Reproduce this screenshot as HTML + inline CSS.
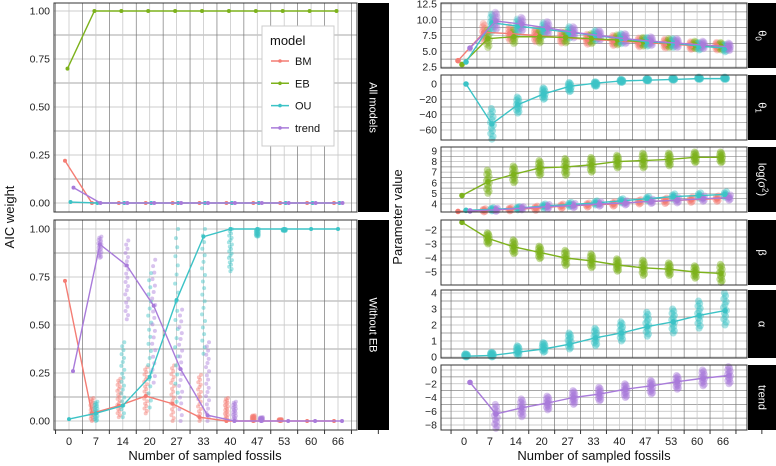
<!DOCTYPE html>
<html><head><meta charset="utf-8"><style>
html,body{margin:0;padding:0;background:#fff;}
svg{display:block;font-family:"Liberation Sans","DejaVu Sans",sans-serif;}
</style></head><body>
<svg id="chart" width="776" height="466" viewBox="0 0 776 466" xmlns="http://www.w3.org/2000/svg"></svg>
<script>
// ---------- data ----------
const categories = [0,7,14,20,27,33,40,47,53,60,66];
const models = ["BM","EB","OU","trend"];
const colors = {BM:"#F47D74",EB:"#7DB21C",OU:"#3CC3C6",trend:"#A97BDA"};

// Left: AIC weight, All models (means)
const aicAllBM = [0.22,0,0,0,0,0,0,0,0,0,0];
const aicAllEB = [0.70,1,1,1,1,1,1,1,1,1,1];
const aicAllOU = [0.005,0,0,0,0,0,0,0,0,0,0];
const aicAllTrend = [0.08,0,0,0,0,0,0,0,0,0,0];

// Left: AIC weight, Without EB (means and replicate ranges)
const aicNoEbBM = [0.73,0.04,0.08,0.13,0.09,0.02,0,0,0,0,0];
const aicNoEbOU = [0.01,0.04,0.08,0.23,0.63,0.96,1,1,1,1,1];
const aicNoEbTrend = [0.26,0.92,0.81,0.6,0.27,0.03,0,0,0,0,0];
const aicNoEbBMMin = [0.73,0,0.02,0.04,0,0,0,0,0,0,0];
const aicNoEbBMMax = [0.73,0.12,0.22,0.28,0.29,0.24,0.12,0.03,0.01,0,0];
const aicNoEbOUMin = [0.01,0,0.02,0.07,0.1,0.35,0.78,0.96,0.99,1,1];
const aicNoEbOUMax = [0.01,0.1,0.41,0.77,1,1,1,1,1,1,1];
const aicNoEbTrendMin = [0.26,0.85,0.53,0.2,0,0,0,0,0,0,0];
const aicNoEbTrendMax = [0.26,0.96,0.94,0.84,0.58,0.41,0.1,0.02,0,0,0];

// Right: theta0
const th0BM = [3.5,8,7.8,7.5,7.2,6.9,6.7,6.4,6.2,5.9,5.8];
const th0EB = [2.9,7,7.3,7.3,7.2,7,6.8,6.5,6.3,6,5.8];
const th0OU = [3.3,9.5,9,8.5,8,7.5,7,6.5,6.3,5.8,5.5];
const th0Trend = [5.5,9.8,9.3,8.7,8,7.5,7,6.6,6.3,6,5.7];
const th0Spread = [0,1.4,1.1,1.0,0.9,0.8,0.8,0.7,0.7,0.6,0.6];
// theta1 (OU)
const th1OU = [0,-52,-27,-13,-3,1,4,5,6,7,7];
const th1Min = [0,-72,-38,-20,-10,-3,2,4,5,6,6];
const th1Max = [0,-32,-17,-5,2,3,6,7,8,9,9];
// log sigma^2
const lsEB = [4.8,6.1,6.8,7.4,7.5,7.7,8.0,8.1,8.2,8.4,8.4];
const lsEBSpread = [0,1.1,0.8,0.7,0.8,0.7,0.6,0.7,0.6,0.5,0.5];
const lsBM = [3.3,3.4,3.5,3.6,3.8,3.9,4.0,4.2,4.3,4.4,4.5];
const lsOU = [3.4,3.5,3.6,3.8,3.95,4.1,4.3,4.5,4.7,4.8,4.9];
const lsTrend = [3.35,3.45,3.6,3.75,3.85,4.0,4.1,4.25,4.35,4.5,4.6];
const lsSmallSpread = [0,0.15,0.15,0.2,0.2,0.2,0.2,0.2,0.25,0.25,0.25];
// beta (EB)
const betaEB = [-1.45,-2.6,-3.2,-3.6,-4.0,-4.2,-4.5,-4.7,-4.8,-5.0,-5.1];
const betaSpread = [0,0.4,0.5,0.45,0.55,0.5,0.45,0.55,0.45,0.45,0.65];
// alpha (OU)
const alphaOU = [0.05,0.1,0.3,0.5,0.8,1.2,1.5,1.9,2.2,2.6,2.9];
const alphaMin = [0,0,0.1,0.3,0.5,0.7,1.0,1.3,1.5,1.8,2.0];
const alphaMax = [0.2,0.3,0.7,0.9,1.5,1.8,2.2,2.8,3.0,3.5,4.0];
// trend
const trendVal = [-1.8,-6.4,-5.5,-4.8,-4.0,-3.5,-2.8,-2.3,-1.7,-1.2,-0.8];
const trendMin = [-1.8,-8.5,-6.8,-5.8,-5,-4.5,-4,-3.5,-2.8,-2.3,-2];
const trendMax = [-1.8,-5,-4.2,-3.8,-3,-2.5,-2,-1.5,-0.8,0,0.5];

// ---------- helpers ----------
const svg = document.getElementById('chart');
const NS = "http://www.w3.org/2000/svg";
const jitterPattern = [0,1.2,-1.2,0.6,-0.6,1.5,-1.5];
function mk(tag, attrs, parent){
  const e = document.createElementNS(NS, tag);
  for (const k in attrs) e.setAttribute(k, attrs[k]);
  (parent||svg).appendChild(e);
  return e;
}
function lin(v1,p1,v2,p2){ return v => p1 + (v-v1)*(p2-p1)/(v2-v1); }
function fmtMinus(s){ return String(s).replace('-', '\u2212'); }

function panel(cfg){
  const g = mk('g', {});
  
  
  mk('rect',{x:cfg.x0,y:cfg.y0,width:cfg.x1-cfg.x0,height:cfg.y1-cfg.y0,fill:'#fff'},g);
  const ys = cfg.ys;
  for (let i=0;i<cfg.ticks.length;i++){
    const yy = ys(cfg.ticks[i]);
    mk('line',{x1:cfg.x0,x2:cfg.x1,y1:yy,y2:yy,stroke:'#bdbdbd','stroke-width':0.8},g);
    if (i<cfg.ticks.length-1){
      const ym = (yy+ys(cfg.ticks[i+1]))/2;
      mk('line',{x1:cfg.x0,x2:cfg.x1,y1:ym,y2:ym,stroke:'#8a8a8a','stroke-width':0.7},g);
    }
    const t = mk('text',{x:cfg.x0-4,y:yy+3.5,'text-anchor':'end','font-size':cfg.fs||10.5,fill:'#222'},g);
    t.textContent = fmtMinus(cfg.labels[i]);
    
    
  }
  for (let i=0;i<categories.length;i++){
    const xx = cfg.xs(i);
    mk('line',{x1:xx,x2:xx,y1:cfg.y0,y2:cfg.y1,stroke:'#c8c8c8','stroke-width':0.8},g);
  }
  for (let i=-1;i<categories.length;i++){
    const xm = cfg.xs(i+0.5);
    mk('line',{x1:xm,x2:xm,y1:cfg.y0,y2:cfg.y1,stroke:'#777','stroke-width':0.7},g);
  }
  const s = mk('rect',{x:cfg.x1+1,y:cfg.y0,width:cfg.sw,height:cfg.y1-cfg.y0,fill:'#000'});
  
  
  const cx = cfg.x1+1+cfg.sw/2, cy=(cfg.y0+cfg.y1)/2;
  const st = mk('text',{x:cx,y:cy+4,'text-anchor':'middle','font-size':11,fill:'#fff',transform:`rotate(90 ${cx} ${cy})`});
  st.innerHTML = cfg.strip;
  
  
  g.frame = ()=>mk('rect',{x:cfg.x0,y:cfg.y0,width:cfg.x1-cfg.x0,height:cfg.y1-cfg.y0,fill:'none',stroke:'#333','stroke-width':1});
  return g;
}

function scatter(g, xs, ys, off, mins, maxs, color, r, n, op){
  for (let i=0;i<categories.length;i++){
    const a=mins[i], b=maxs[i];
    if (a===b) continue;
    for (let k=0;k<n;k++){
      const v = a + (b-a)*k/(n-1);
      const c = mk('circle',{cx:xs(i)+off+jitterPattern[k%jitterPattern.length],cy:ys(v),r:r,fill:color,'fill-opacity':op},g);
      
      
    }
  }
}
function series(g, xs, ys, off, vals, color, r, name){
  const pts = vals.map((v,i)=>`${xs(i)+off},${ys(v)}`).join(' ');
  const pl = mk('polyline',{points:pts,fill:'none',stroke:color,'stroke-width':1.4},g);
  
  
  vals.forEach((v,i)=>{
    const c = mk('circle',{cx:xs(i)+off,cy:ys(v),r:r,fill:color},g);
    
    
  });
}

// ---------- LEFT ----------
const LX0=54, LX1=357;
const lxs = i => 69 + i*26.9;
const aicTicks=[0,0.25,0.5,0.75,1], aicLabels=["0.00","0.25","0.50","0.75","1.00"];
const lOff = {BM:-4,EB:-1.5,OU:1.5,trend:4.5};

const p1ys = lin(1,11,0,203);
const p1 = panel({name:'panel-all-models',x0:LX0,x1:LX1,y0:3,y1:212,ys:p1ys,xs:lxs,ticks:aicTicks,labels:aicLabels,strip:'All models',sw:31});
series(p1,lxs,p1ys,lOff.BM,aicAllBM,colors.BM,2,'bm');
series(p1,lxs,p1ys,lOff.OU,aicAllOU,colors.OU,2,'ou');
series(p1,lxs,p1ys,lOff.trend,aicAllTrend,colors.trend,2,'trend');
series(p1,lxs,p1ys,lOff.EB,aicAllEB,colors.EB,2,'eb');
p1.frame();

const p2ys = lin(1,229,0,421);
const p2 = panel({name:'panel-without-eb',x0:LX0,x1:LX1,y0:220,y1:430,ys:p2ys,xs:lxs,ticks:aicTicks,labels:aicLabels,strip:'Without EB',sw:31});
const o2={BM:-4,OU:0,trend:4};
scatter(p2,lxs,p2ys,o2.BM,aicNoEbBMMin,aicNoEbBMMax,colors.BM,2,20,0.45);
scatter(p2,lxs,p2ys,o2.OU,aicNoEbOUMin,aicNoEbOUMax,colors.OU,2,20,0.45);
scatter(p2,lxs,p2ys,o2.trend,aicNoEbTrendMin,aicNoEbTrendMax,colors.trend,2,20,0.45);
series(p2,lxs,p2ys,o2.BM,aicNoEbBM,colors.BM,2,'bm');
series(p2,lxs,p2ys,o2.OU,aicNoEbOU,colors.OU,2,'ou');
series(p2,lxs,p2ys,o2.trend,aicNoEbTrend,colors.trend,2,'trend');
p2.frame();

function xAxis(xs, y, x0, name){
  const g = mk('g',{});
  
  
  for (let i=-1;i<=categories.length;i++){
    mk('line',{x1:xs(i+0.5),x2:xs(i+0.5),y1:y,y2:y+4,stroke:'#333','stroke-width':1},g);
  }
  categories.forEach((c,i)=>{
    const t = mk('text',{x:xs(i),y:y+15,'text-anchor':'middle','font-size':11,fill:'#222'},g);
    t.textContent = c;
    
    
  });
}
xAxis(lxs,430,LX0,'left-x-axis');
let t = mk('text',{x:205,y:460,'text-anchor':'middle','font-size':13,fill:'#111'});
t.textContent='Number of sampled fossils';
 
t = mk('text',{x:14,y:217,'text-anchor':'middle','font-size':13,fill:'#111',transform:'rotate(-90 14 217)'});
t.textContent='AIC weight';
 

// legend
const lg = mk('g',{});
 
mk('rect',{x:262,y:26,width:72,height:120,fill:'#fff',stroke:'#ccc','stroke-width':1},lg);
t = mk('text',{x:270,y:45,'font-size':13,fill:'#111'},lg); t.textContent='model';
 
models.forEach((m,i)=>{
  const y = 61+i*22.3;
  const e = mk('g',{},lg);
  
  
  mk('line',{x1:271,x2:289,y1:y,y2:y,stroke:colors[m],'stroke-width':1.5},e);
  mk('circle',{cx:280,cy:y,r:1.8,fill:colors[m]},e);
  const tt = mk('text',{x:295,y:y+4,'font-size':11,fill:'#111'},e); tt.textContent=m;
});

// ---------- RIGHT ----------
const RX0=441, RX1=747;
const rxs = i => 464 + i*25.9;
const rOff = {BM:-6,EB:-2,OU:2,trend:6};
const RSW=29;

let ys = lin(12.5,4,2.5,67);
let g = panel({name:'panel-theta0',x0:RX0,x1:RX1,y0:3,y1:68,ys:ys,xs:rxs,ticks:[2.5,5,7.5,10,12.5],labels:["2.5","5.0","7.5","10.0","12.5"],strip:'θ<tspan font-size="8" dy="3">0</tspan>',sw:RSW});
const th0 = {BM:th0BM,EB:th0EB,OU:th0OU,trend:th0Trend};
models.forEach(m=>{
  scatter(g,rxs,ys,rOff[m],th0[m].map((v,i)=>v-th0Spread[i]),th0[m].map((v,i)=>v+th0Spread[i]),colors[m],3.5,12,0.35);
});
models.forEach(m=>series(g,rxs,ys,rOff[m],th0[m],colors[m],2.8,m.toLowerCase()));
g.frame();

ys = lin(0,84,-60,130);
g = panel({name:'panel-theta1',x0:RX0,x1:RX1,y0:75,y1:140,ys:ys,xs:rxs,ticks:[-60,-40,-20,0],labels:["-60","-40","-20","0"],strip:'θ<tspan font-size="8" dy="3">1</tspan>',sw:RSW});
scatter(g,rxs,ys,rOff.OU,th1Min,th1Max,colors.OU,3.5,12,0.45);
series(g,rxs,ys,rOff.OU,th1OU,colors.OU,2.8,'ou');
g.frame();

ys = lin(9,151,4,204);
g = panel({name:'panel-log-sigma2',x0:RX0,x1:RX1,y0:147,y1:212,ys:ys,xs:rxs,ticks:[4,5,6,7,8,9],labels:["4","5","6","7","8","9"],strip:'log(σ<tspan font-size="8" dy="-4">2</tspan><tspan dy="4">)</tspan>',sw:RSW,fs:10});
const ls = {BM:lsBM,OU:lsOU,trend:lsTrend};
["BM","OU","trend"].forEach(m=>{
  scatter(g,rxs,ys,rOff[m],ls[m].map((v,i)=>v-lsSmallSpread[i]),ls[m].map((v,i)=>v+lsSmallSpread[i]),colors[m],3.5,6,0.45);
});
scatter(g,rxs,ys,rOff.EB,lsEB.map((v,i)=>v-lsEBSpread[i]),lsEB.map((v,i)=>v+lsEBSpread[i]),colors.EB,3.5,12,0.45);
["BM","OU","trend","EB"].forEach(m=>series(g,rxs,ys,rOff[m],m==="EB"?lsEB:ls[m],colors[m],2.8,m.toLowerCase()));
g.frame();

ys = lin(-2,230,-5,272);
g = panel({name:'panel-beta',x0:RX0,x1:RX1,y0:220,y1:285,ys:ys,xs:rxs,ticks:[-5,-4,-3,-2],labels:["-5","-4","-3","-2"],strip:'β',sw:RSW});
scatter(g,rxs,ys,rOff.EB,betaEB.map((v,i)=>v-betaSpread[i]),betaEB.map((v,i)=>v+betaSpread[i]),colors.EB,3.5,12,0.45);
series(g,rxs,ys,rOff.EB,betaEB,colors.EB,2.8,'eb');
g.frame();

ys = lin(4,293,0,357);
g = panel({name:'panel-alpha',x0:RX0,x1:RX1,y0:290,y1:358,ys:ys,xs:rxs,ticks:[0,1,2,3,4],labels:["0","1","2","3","4"],strip:'α',sw:RSW});
scatter(g,rxs,ys,rOff.OU,alphaMin,alphaMax,colors.OU,3.5,12,0.45);
series(g,rxs,ys,rOff.OU,alphaOU,colors.OU,2.8,'ou');
g.frame();

ys = lin(0,370,-8,425);
g = panel({name:'panel-trend',x0:RX0,x1:RX1,y0:365,y1:430,ys:ys,xs:rxs,ticks:[-8,-6,-4,-2,0],labels:["-8","-6","-4","-2","0"],strip:'trend',sw:RSW});
scatter(g,rxs,ys,rOff.trend,trendMin,trendMax,colors.trend,3.5,12,0.45);
series(g,rxs,ys,rOff.trend,trendVal,colors.trend,2.8,'trend');
g.frame();

xAxis(rxs,430,RX0,'right-x-axis');
t = mk('text',{x:594,y:460,'text-anchor':'middle','font-size':13,fill:'#111'});
t.textContent='Number of sampled fossils';
 
t = mk('text',{x:402,y:217,'text-anchor':'middle','font-size':13,fill:'#111',transform:'rotate(-90 402 217)'});
t.textContent='Parameter value';
 
</script>
</body></html>
